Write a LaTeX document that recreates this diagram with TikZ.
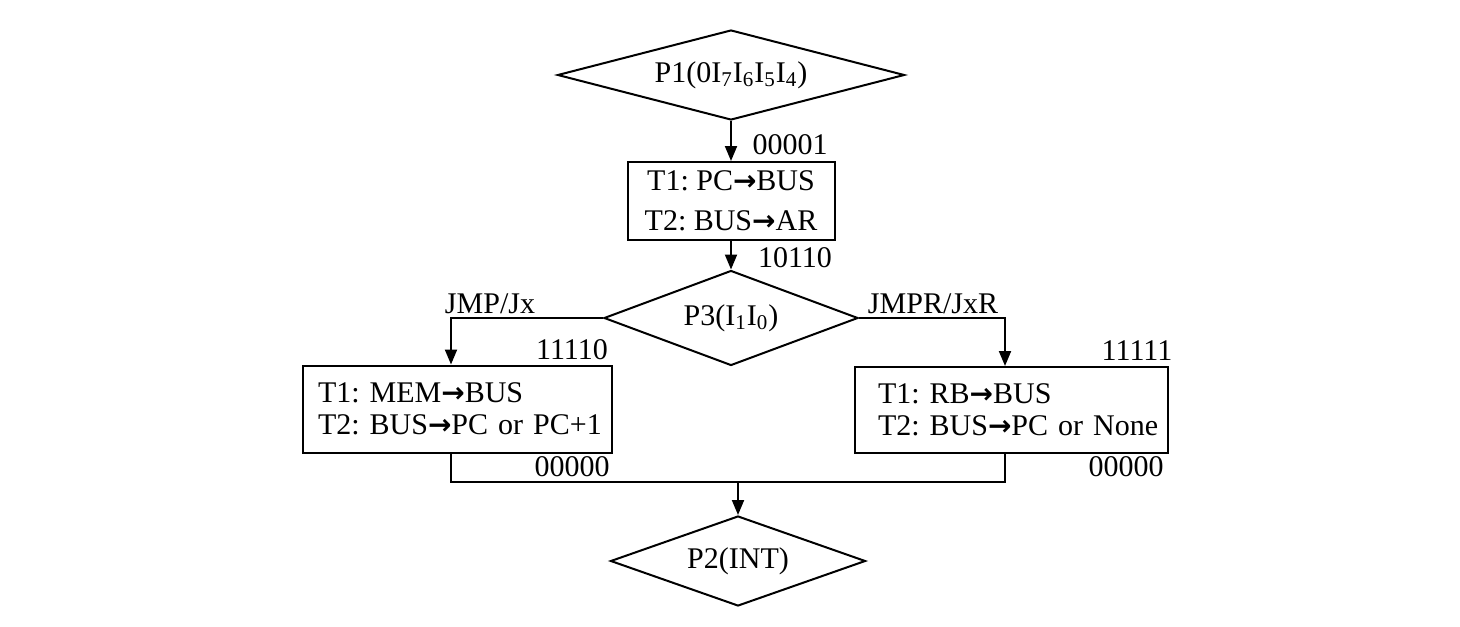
\documentclass[tikz,border=0pt]{standalone}
\usepackage{fontspec}
\setmainfont{Liberation Serif}
\newfontfamily\arrowfont{DejaVu Sans}
\newcommand{\toarr}{{\arrowfont\bfseries\fontsize{14}{14}\selectfont →}}
\usetikzlibrary{shapes.geometric,arrows.meta}

\begin{document}
\frenchspacing
\begin{tikzpicture}[x=0.5pt, y=-0.5pt,
    every node/.style={font=\fontsize{15}{19}\selectfont},
    stepbox/.style={draw, line width=1pt, inner sep=0pt},
    decision/.style={draw, diamond, line width=1pt, inner sep=0pt},
    lbl/.style={inner sep=0pt},
    arr/.style={line width=1pt, -{Triangle[length=7.5pt, width=6pt]}},
    wire/.style={line width=1pt}]
    \useasboundingbox (0,0) rectangle (1460,626);

    % decisions
    \node[decision, shape aspect=3.86, minimum width=173.5pt, minimum height=45pt] (p1) at (731,75)
        {P1(0I\textsubscript{7}I\textsubscript{6}I\textsubscript{5}I\textsubscript{4})};
    \node[decision, shape aspect=2.67, minimum width=127pt, minimum height=47.5pt] (p3) at (731,318)
        {P3(I\textsubscript{1}I\textsubscript{0})};
    \node[decision, shape aspect=2.83, minimum width=127.5pt, minimum height=45pt] (p2) at (738,561)
        {P2(INT)};

    % micro steps
    \node[stepbox, minimum width=103.5pt, minimum height=39pt, text depth=-4.5pt, align=center] (b1) at (731,201)
        {T1: PC\toarr BUS\\[1pt]T2: BUS\toarr AR};
    \node[stepbox, minimum height=43.5pt, text width=139.5pt, inner xsep=7.5pt, align=left] (b2) at (457.5,409)
        {\mbox{T1: MEM\toarr BUS}\\[-3pt]\mbox{T2: BUS\toarr PC or PC+1}};
    \node[stepbox, minimum height=43pt, text width=133.5pt, inner xsep=11.5pt, align=left] (b3) at (1011.5,410)
        {\mbox{T1: RB\toarr BUS}\\[-3pt]\mbox{T2: BUS\toarr PC or None}};
    \coordinate (m) at (738,482);

    % connectors
    \draw[arr] (p1) -- (b1);
    \draw[arr] (b1) -- (p3);
    \draw[arr] (p3.west) -| ([xshift=-3.25pt]b2.north);
    \draw[arr] (p3.east) -| ([xshift=-3.25pt]b3.north);
    \draw[wire] ([xshift=-3.25pt]b2.south) |- (m) -| ([xshift=-3.25pt]b3.south);
    \draw[arr] (m) -- (p2);

    % codes
    \node[lbl] (c1) at (790,145) {00001};
    \node[lbl] (c2) at (795,258) {10110};
    \node[lbl] (c3) at (490,304) {JMP/Jx};
    \node[lbl] (c4) at (933,304) {JMPR/JxR};
    \node[lbl] (c5) at (572,350) {11110};
    \node[lbl] (c6) at (1137,351) {11111};
    \node[lbl] (c7) at (572,467) {00000};
    \node[lbl] (c8) at (1126,467) {00000};
\end{tikzpicture}
\end{document}
